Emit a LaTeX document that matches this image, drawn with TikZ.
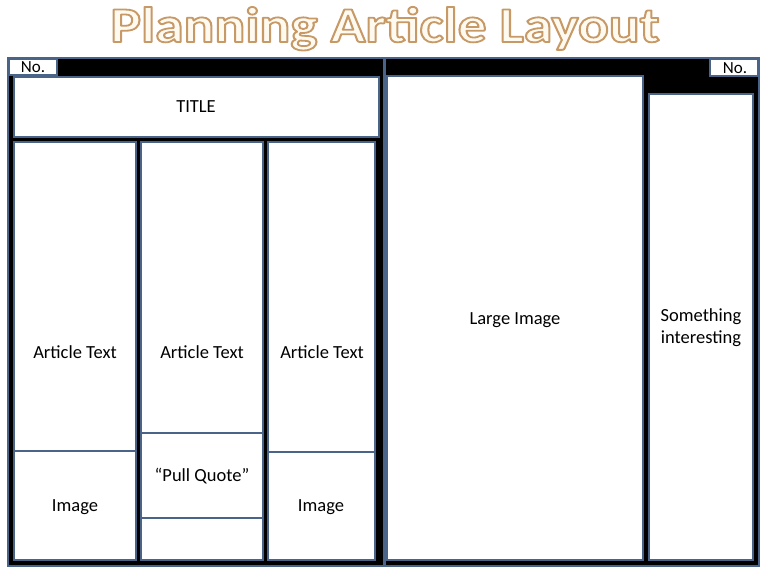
\documentclass[tikz,border=0pt]{standalone}
\usepackage{fontspec}
\setmainfont{Carlito}
\definecolor{bordc}{HTML}{4A6389}
\definecolor{creamc}{HTML}{FFFAF0}
\begin{document}
\begin{tikzpicture}[x=1pt,y=-1pt,
  page/.style={draw=bordc, fill=black, line width=1.5pt},
  box/.style={draw=bordc, fill=white, line width=1.6pt},
  divider/.style={draw=bordc, line width=1.6pt},
  lbl/.style={font=\fontsize{18.5}{22}\selectfont, text=black, inner sep=0pt},
  nolbl/.style={font=\fontsize{17}{20}\selectfont, text=black, inner sep=0pt},
  ttl/.style={font=\fontsize{50}{54}\selectfont\bfseries, inner sep=0pt, text=creamc}]
\useasboundingbox (0,0) rectangle (768,576);
\fill[white] (0,0) rectangle (768,576);
% title with outline
\node[ttl, anchor=base] (title) at (385,42) {\scalebox{1.15}[1]{\special{pdf:literal direct 2 Tr 1.8 w 0.78 0.60 0.40 RG 1 j}Planning Article Layout\special{pdf:literal direct 0 Tr}}};
% pages
\draw[page] (8,58) rectangle (384,566);
\draw[page] (385,58) rectangle (759,566);
% left page
\draw[box] (9,59) rectangle (57,75);
\node[nolbl] (noL) at (33,67.5) {No.};
\draw[box] (14,77) rectangle (379,137);
\node[lbl] (titlebox) at (196,107) {TITLE};
\draw[box] (14,142) rectangle (136,560);
\draw[divider] (14,451) -- (136,451);
\node[lbl] (at1) at (75,352) {Article Text};
\node[lbl] (img1) at (75,507) {Image};
\draw[box] (141,142) rectangle (263,560);
\draw[divider] (141,433) -- (263,433);
\draw[divider] (141,518) -- (263,518);
\node[lbl] (at2) at (202,352) {Article Text};
\node[lbl] (pq) at (202,476) {“Pull Quote”};
\draw[box] (268,142) rectangle (375,560);
\draw[divider] (268,452) -- (375,452);
\node[lbl] (at3) at (322,352) {Article Text};
\node[lbl] (img3) at (321,507) {Image};
% right page
\draw[box] (710,59) rectangle (758,76);
\node[nolbl] (noR) at (735,68) {No.};
\draw[box] (387,76) rectangle (643,560);
\node[lbl] (large) at (515,320) {Large Image};
\draw[box] (649,94) rectangle (753,560);
\node[lbl, align=center] (some) at (701,328) {Something\\[0pt]interesting};
\end{tikzpicture}
\end{document}
